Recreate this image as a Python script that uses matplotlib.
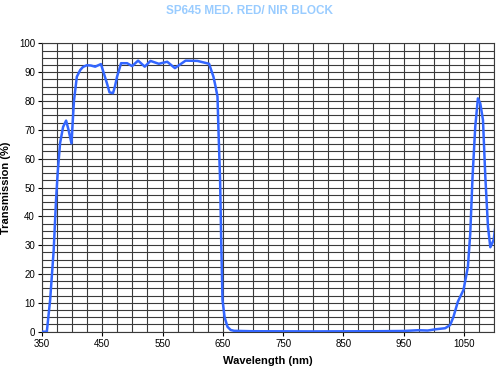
import numpy as np
import matplotlib
matplotlib.use("Agg")
import matplotlib.pyplot as plt
from matplotlib.ticker import MultipleLocator

plt.rcParams['font.family'] = ['Liberation Sans', 'DejaVu Sans']

# transmission curve
wavelength = [350, 358, 363.5, 369.4, 373.3, 376, 380, 385, 390, 394, 398.9,
              403, 407.8, 413.3, 418, 424.5, 431, 438.3, 447.8, 452, 457.8,
              462, 467.8, 471, 474.5, 481.2, 491.2, 499.5, 509.5, 520.5, 530,
              543.8, 557.8, 570.5, 588.3, 607.8, 627.2, 634.5, 638, 641.2,
              642.8, 645.5, 647.5, 649.5, 653, 657.8, 663, 668.8, 700, 800,
              900, 950, 974, 990, 1002, 1010, 1018.9, 1027.2, 1032.8, 1040,
              1049.4, 1056.7, 1060.6, 1064.4, 1068.9, 1073.3, 1077.2, 1081.7,
              1085.6, 1090, 1093.9, 1099.4, 1103]
transmission = [0, 0, 11, 28.3, 45.7, 55, 65.4, 71, 73.2, 70, 65.3,
                80, 88.4, 90.7, 91.8, 92.4, 92.3, 91.9, 92.8, 90, 86.1,
                83, 82.7, 85, 88.4, 93.1, 93.1, 92.1, 94, 91.9, 93.9,
                92.9, 93.6, 91.4, 94, 93.9, 92.9, 88.4, 85, 81.5,
                70, 52.6, 30, 11, 5, 1.7, 0.6, 0.3, 0.15, 0.1,
                0.15, 0.25, 0.5, 0.4, 0.8, 1.0, 1.2, 2.3, 5.2, 10.4,
                14.5, 22.5, 34.1, 53.7, 71.1, 80.9, 79.2, 73.4,
                53.7, 36.4, 29.3, 31.8, 37.6]

x_ticks = [350, 450, 550, 650, 750, 850, 950, 1050]
y_ticks = [0, 10, 20, 30, 40, 50, 60, 70, 80, 90, 100]

fig = plt.figure(figsize=(5, 3.75), dpi=100)
ax = fig.add_axes([0.084, 0.1155, 0.904, 0.769])

ax.plot(wavelength, transmission, color='#3366ff', lw=1.8, zorder=3)

ax.set_xlim(350, 1100)
ax.set_ylim(0, 100)
ax.set_xticks(x_ticks)
ax.set_yticks(y_ticks)
ax.xaxis.set_minor_locator(MultipleLocator(25))
ax.yaxis.set_minor_locator(MultipleLocator(2.5))
ax.grid(which='both', color='#3a3a3a', lw=0.8)
ax.set_axisbelow(True)
ax.tick_params(which='major', labelsize=7, length=3, width=0.8, pad=2)
ax.tick_params(which='minor', length=0)
for s in ax.spines.values():
    s.set_color('#3a3a3a')
    s.set_linewidth(0.8)

ax.set_xlabel('Wavelength (nm)', fontsize=8, fontweight='bold', labelpad=5)
ax.set_ylabel('Transmission (%)', fontsize=8, fontweight='bold', labelpad=6)
fig.text(0.5, 0.972, 'SP645 MED. RED/ NIR BLOCK', ha='center', va='center',
         fontsize=8.5, fontweight='bold', color='#99ccff')

fig.savefig('out.png', dpi=100)
